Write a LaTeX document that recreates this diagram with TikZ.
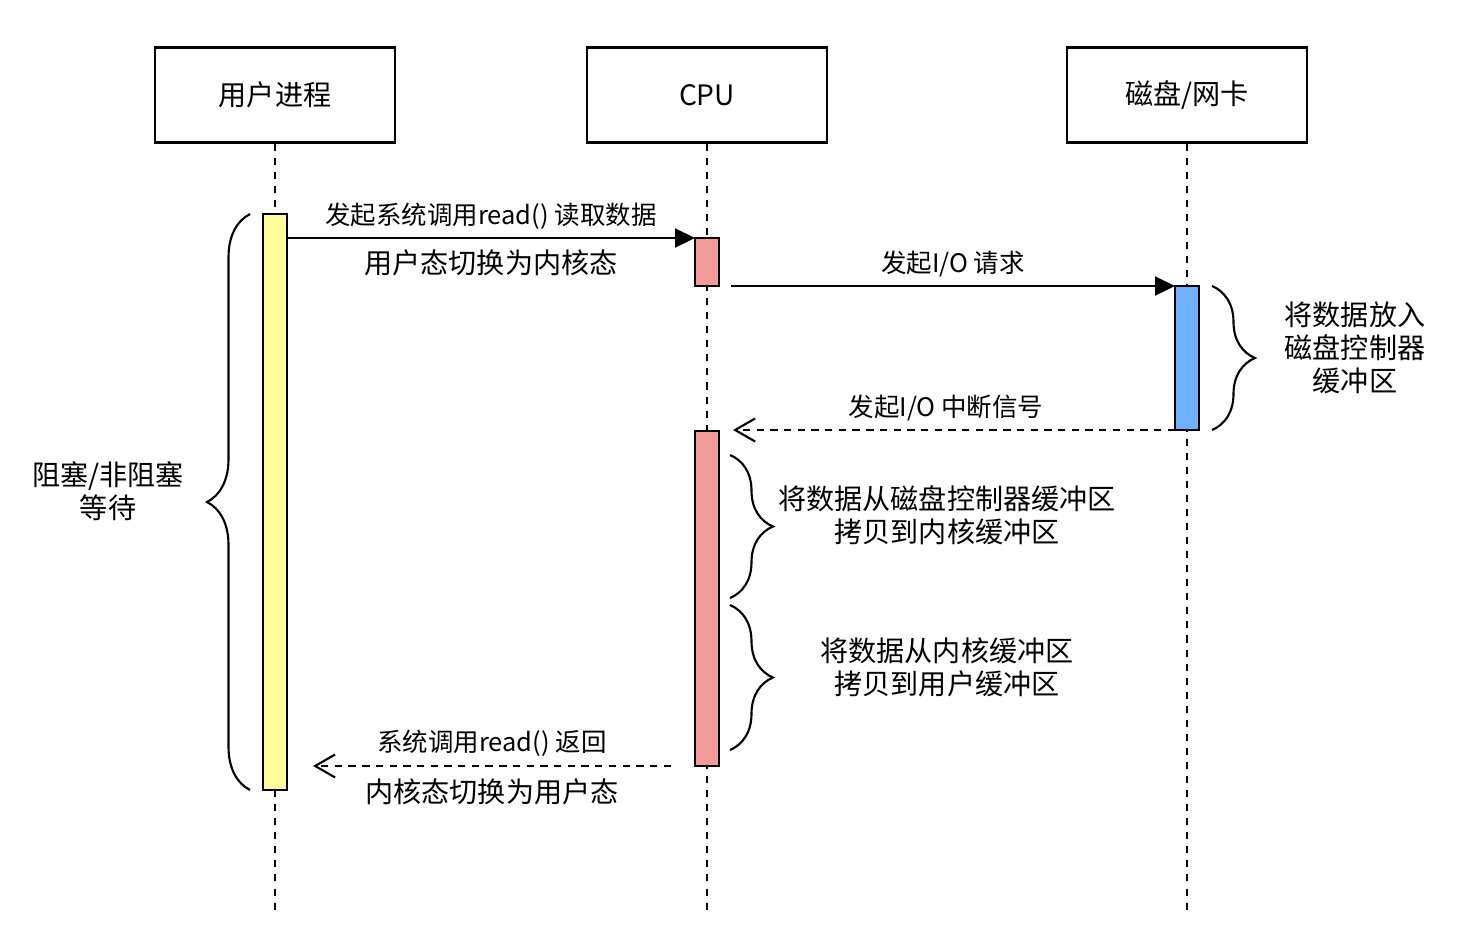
\documentclass[tikz,border=0pt]{standalone}
\usepackage{fontspec}
\setmainfont{Noto Sans CJK SC}
\usetikzlibrary{arrows.meta,decorations.pathreplacing}
\definecolor{waityel}{RGB}{255,255,153}
\definecolor{cpured}{RGB}{241,156,153}
\definecolor{diskblue}{RGB}{110,176,255}

\begin{document}
\begin{tikzpicture}[x=0.02cm,y=-0.02cm,
  hdr/.style={draw,line width=1.2pt,minimum width=4.8cm,minimum height=1.9cm,font=\fontsize{16}{19}\selectfont},
  life/.style={line width=1.2pt,dash pattern=on 4pt off 4pt},
  act/.style={draw,line width=1.2pt,minimum width=0.48cm,inner sep=0pt,outer sep=0pt},
  msg/.style={line width=1.2pt,-{Triangle[length=0.4cm,width=0.38cm]}},
  ret/.style={line width=1.2pt,dash pattern=on 4.2pt off 3.6pt,-{Straight Barb[length=0.4cm,width=0.46cm,line width=1.2pt]}},
  brc/.style={line width=1.2pt,decorate,decoration={brace,amplitude=0.86cm}},
  lbl/.style={font=\fontsize{14.5}{17}\selectfont},
  big/.style={font=\fontsize{16}{18.8}\selectfont,align=center}]
  \useasboundingbox (0,0) rectangle (1460,946);

  % headers
  \node[hdr] (user) at (275,95) {用户进程};
  \node[hdr] (cpu) at (707,95) {CPU};
  \node[hdr] (disk) at (1187,95) {磁盘/网卡};

  % lifelines
  \coordinate (uend) at (275,910);
  \coordinate (cend) at (707,910);
  \coordinate (dend) at (1187,910);
  \draw[life] (user.south) -- (uend);
  \draw[life] (cpu.south) -- (cend);
  \draw[life] (disk.south) -- (dend);

  % activations
  \node[act,fill=waityel,minimum height=11.52cm] (ua) at (275,502) {};
  \node[act,fill=cpured,minimum height=0.96cm] (c1) at (707,262) {};
  \node[act,fill=cpured,minimum height=6.7cm] (c2) at (707,598.5) {};
  \node[act,fill=diskblue,minimum height=2.88cm] (dk) at (1187,358) {};

  % messages
  \draw[msg] (ua.east |- c1.north) -- (c1.north west)
    node[lbl,midway,yshift=0.44cm] {发起系统调用read() 读取数据}
    node[big,midway,yshift=-0.5cm] {用户态切换为内核态};
  \draw[msg] ([xshift=0.24cm]c1.east |- dk.north) -- (dk.north west)
    node[lbl,midway,yshift=0.44cm] {发起I/O 请求};
  \draw[ret] (dk.south west) -- ([xshift=0.28cm]c2.east |- dk.south)
    node[lbl,midway,yshift=0.44cm,xshift=-0.16cm] {发起I/O 中断信号};
  \draw[ret] ([xshift=-0.48cm]c2.south west) -- ([xshift=0.52cm]ua.east |- c2.south)
    node[lbl,midway,yshift=0.46cm] {系统调用read() 返回}
    node[big,midway,yshift=-0.52cm] {内核态切换为用户态};

  % braces
  \draw[brc] ([xshift=-0.26cm]ua.south west) -- ([xshift=-0.26cm]ua.north west);
  \draw[brc] ([xshift=0.26cm]dk.north east) -- ([xshift=0.26cm]dk.south east);
  \draw[brc] (730,455) -- (730,598);
  \draw[brc] (730,605) -- (730,750);

  \node[big] (wait) at (108,491) {阻塞/非阻塞\\等待};
  \node[big] (put) at (1355,348) {将数据放入\\磁盘控制器\\缓冲区};
  \node[big] (cp1) at (947,515) {将数据从磁盘控制器缓冲区\\拷贝到内核缓冲区};
  \node[big] (cp2) at (947,667) {将数据从内核缓冲区\\拷贝到用户缓冲区};
\end{tikzpicture}
\end{document}
